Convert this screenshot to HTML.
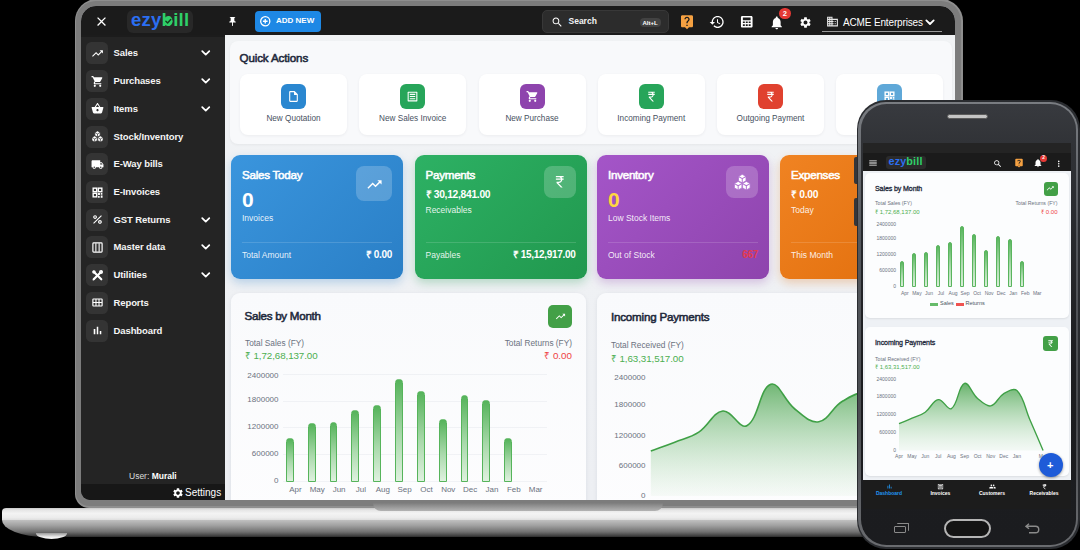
<!DOCTYPE html>
<html><head><meta charset="utf-8"><title>ezybill</title>
<style>
html,body{margin:0;padding:0;background:#000;}
body{width:1080px;height:550px;overflow:hidden;position:relative;font-family:"Liberation Sans",sans-serif;-webkit-font-smoothing:antialiased;}
*{box-sizing:border-box;}
.abs,.ic,.t{position:absolute;}
.t{white-space:nowrap;line-height:1;}
.ic{display:block;}
.h{font-weight:normal;-webkit-text-stroke:.55px currentColor;}
</style></head><body>

<div class="abs" style="left:74.800px;top:-1px;width:888px;height:509px;background:#8e8e8e;border-radius:22px 22px 14px 14px;"></div>
<div class="abs" style="left:76.300px;top:1px;width:885px;height:505px;background:#7c7c7c;border-radius:20px 20px 13px 13px;"></div>
<div id="scr" class="abs" style="left:81px;top:6px;width:874px;height:494px;background:#eff1f4;border-radius:15px 15px 9px 9px;overflow:hidden;">
<div class="abs" style="left:143.7px;top:29px;width:731px;height:465px;background:linear-gradient(180deg,#f1f3f5,#edeff3);"></div>
<div class="abs" style="left:0;top:0;width:874px;height:29px;background:#1b1b1b;"></div>
<svg class="ic" style="left:12.5px;top:7.5px;width:15px;height:15px;" viewBox="0 0 24 24"><path fill="#fff" d="M19 6.410L17.590 5 12 10.590 6.410 5 5 6.410 10.590 12 5 17.590 6.410 19 12 13.410 17.590 19 19 17.590 13.410 12z"/></svg>
<div class="abs" style="left:46px;top:3.5px;width:66px;height:23px;background:#282828;border-radius:6px;"></div>
<div class="t" style="left:50px;top:5px;font-size:18.500px;font-weight:bold;letter-spacing:.25px;"><span style="color:#2b6ff2">ezy</span><span style="color:#2fd068">bill</span></div>
<svg class="ic" style="left:81.7px;top:9.9px;width:10.500px;height:10.500px;" viewBox="0 0 10.500 10.500"><circle cx="5.250" cy="5.250" r="4.300" fill="#2fd068"/><path d="M2.900 5.300 L4.600 7 L7.700 3.600" fill="none" stroke="#14401f" stroke-width="1.500" stroke-linecap="round" stroke-linejoin="round"/></svg>
<svg class="ic" style="left:146px;top:9.5px;width:11px;height:11px;" viewBox="0 0 24 24"><path fill="#fff" d="M16 9V4h1c.55 0 1-.45 1-1s-.45-1-1-1H7c-.55 0-1 .45-1 1s.45 1 1 1h1v5c0 1.660-1.340 3-3 3v2h5.970v7l1 1 1-1v-7H19v-2c-1.660 0-3-1.340-3-3z"/></svg>
<div class="abs" style="left:174px;top:4.5px;width:66px;height:21.500px;background:#1e88e5;border-radius:4px;"></div>
<svg class="ic" style="left:177.5px;top:9px;width:12.5px;height:12.5px;" viewBox="0 0 24 24" fill="none" stroke="#fff"><circle cx="12" cy="12" r="8.800" stroke-width="2.500"/><path d="M12 7.500v9M7.500 12h9" stroke-width="2.600"/></svg>
<div class="t" style="left:195px;top:11px;font-size:8px;font-weight:bold;color:#fff;letter-spacing:0;">ADD NEW</div>
<div class="abs" style="left:461px;top:3.5px;width:127px;height:23.500px;background:#2c2c2c;border:1px solid #383838;border-radius:5px;"></div>
<svg class="ic" style="left:470px;top:9.5px;width:12.5px;height:12.5px;" viewBox="0 0 24 24"><path fill="#fff" d="M15.5 14h-.79l-.28-.27C15.41 12.59 16 11.11 16 9.5 16 5.91 13.09 3 9.5 3S3 5.91 3 9.5 5.91 16 9.5 16c1.61 0 3.09-.59 4.23-1.570l.27.28v.79l5 4.990L20.490 19l-4.990-5zm-6 0C7.010 14 5 11.990 5 9.500S7.010 5 9.500 5 14 7.010 14 9.500 11.990 14 9.500 14z"/></svg>
<div class="t" style="left:487.5px;top:11.3px;font-size:8.500px;font-weight:bold;color:#f2f2f2;">Search</div>
<div class="abs" style="left:558.5px;top:11.5px;width:21px;height:9.500px;background:#424242;border-radius:4px;"></div>
<div class="t" style="left:561.5px;top:13.5px;font-size:6px;font-weight:bold;color:#fff;">Alt+L</div>
<svg class="ic" style="left:597.5px;top:8px;width:16px;height:16px;" viewBox="0 0 24 24"><path fill="#f5a142" d="M19 2H5c-1.110 0-2 .9-2 2v14c0 1.100.89 2 2 2h4l3 3 3-3h4c1.100 0 2-.9 2-2V4c0-1.100-.9-2-2-2zm-6 16h-2v-2h2v2zm2.070-7.750l-.9.92C13.450 11.900 13 12.500 13 14h-2v-.5c0-1.100.45-2.100 1.170-2.830l1.240-1.260c.37-.36.59-.86.59-1.410 0-1.100-.9-2-2-2s-2 .9-2 2H8c0-2.210 1.790-4 4-4s4 1.790 4 4c0 .88-.36 1.680-.93 2.250z"/></svg>
<svg class="ic" style="left:628px;top:8px;width:16px;height:16px;" viewBox="0 0 24 24"><path fill="#fff" d="M13 3c-4.970 0-9 4.030-9 9H1l3.890 3.890.07.14L9 12H6c0-3.870 3.130-7 7-7s7 3.130 7 7-3.130 7-7 7c-1.930 0-3.680-.79-4.940-2.060l-1.420 1.420C8.270 19.990 10.510 21 13 21c4.970 0 9-4.030 9-9s-4.030-9-9-9zm-1 5v5l4.280 2.540.72-1.210-3.500-2.080V8H12z"/></svg>
<svg class="ic" style="left:657.5px;top:8px;width:15.5px;height:15.5px;" viewBox="0 0 24 24"><path fill="#fff" d="M19 3H5c-1.100 0-2 .9-2 2v14c0 1.100.9 2 2 2h14c1.100 0 2-.9 2-2V5c0-1.100-.9-2-2-2zM6 5.500h12v4H6v-4zM6 11.500h3v2.500H6zm4.500 0h3v2.500h-3zm4.500 0h3v2.500h-3zM6 16h3v2.500H6zm4.500 0h3v2.500h-3zm4.500 0h3v2.500h-3z"/></svg>
<svg class="ic" style="left:687.5px;top:8.5px;width:15.5px;height:15.5px;" viewBox="0 0 24 24"><path fill="#fff" d="M12 22c1.1 0 2-.9 2-2h-4c0 1.100.89 2 2 2zm6-6v-5c0-3.070-1.640-5.640-4.500-6.320V4c0-.83-.67-1.500-1.500-1.500s-1.500.67-1.500 1.500v.68C7.630 5.360 6 7.920 6 11v5l-2 2v1h16v-1l-2-2z"/></svg>
<div class="abs" style="left:698px;top:1.5px;width:11.500px;height:11.500px;border-radius:50%;background:#e53935;"></div>
<div class="t" style="left:701.7px;top:3.8px;font-size:7.500px;color:#fff;font-weight:bold;">2</div>
<svg class="ic" style="left:718px;top:9.5px;width:13px;height:13px;" viewBox="0 0 24 24"><path fill="#fff" d="M19.14 12.94c.04-.3.06-.61.06-.94 0-.32-.02-.64-.07-.94l2.030-1.580c.18-.14.23-.41.12-.61l-1.920-3.320c-.12-.22-.37-.29-.59-.22l-2.390.96c-.5-.38-1.030-.7-1.620-.94l-.36-2.540c-.04-.24-.24-.41-.48-.41h-3.840c-.24 0-.43.17-.47.41l-.36 2.540c-.59.24-1.130.57-1.620.94l-2.390-.96c-.22-.08-.47 0-.59.22L2.740 8.870c-.12.21-.08.47.12.61l2.030 1.580c-.05.3-.09.63-.09.94s.02.64.07.94l-2.030 1.580c-.18.14-.23.41-.12.61l1.920 3.320c.12.22.37.29.59.22l2.390-.96c.5.38 1.030.7 1.620.94l.36 2.540c.05.24.24.41.48.41h3.840c.24 0 .44-.17.47-.41l.36-2.540c.59-.24 1.130-.56 1.620-.94l2.390.96c.22.08.47 0 .59-.22l1.920-3.320c.12-.22.07-.47-.12-.61l-2.010-1.580zM12 15.600c-1.980 0-3.600-1.620-3.600-3.600s1.620-3.600 3.600-3.600 3.600 1.620 3.600 3.600-1.620 3.600-3.600 3.600z"/></svg>
<svg class="ic" style="left:744.5px;top:9px;width:13px;height:13px;" viewBox="0 0 24 24"><path fill="#e6e6e6" d="M12 7V3H2v18h20V7H12zM6 19H4v-2h2v2zm0-4H4v-2h2v2zm0-4H4V9h2v2zm0-4H4V5h2v2zm4 12H8v-2h2v2zm0-4H8v-2h2v2zm0-4H8V9h2v2zm0-4H8V5h2v2zm10 12h-8v-2h2v-2h-2v-2h2v-2h-2V9h8v10zm-2-8h-2v2h2v-2zm0 4h-2v2h2v-2z"/></svg>
<div class="t" style="left:762px;top:12px;font-size:10px;color:#fff;letter-spacing:-.15px;">ACME Enterprises</div>
<svg class="ic" style="left:841px;top:7.5px;width:16px;height:16px;" viewBox="0 0 24 24" fill="none" stroke="#fff"><path d="M6.500 9.500 L12 15 L17.500 9.500" stroke-width="2.700" stroke-linecap="round" stroke-linejoin="round"/></svg>
<div class="abs" style="left:740.5px;top:24.5px;width:120px;height:1px;background:#9a9a9a;"></div>
<div class="abs" style="left:0;top:29px;width:143.700px;height:465px;background:#242424;"></div>
<div class="abs" style="left:0;top:29px;width:143.700px;height:2px;background:#1c1c1c;"></div>
<div class="abs" style="left:5px;top:36.4px;width:22px;height:22px;background:#343434;border-radius:5.500px;"></div>
<svg class="ic" style="left:9.5px;top:40.9px;width:13px;height:13px;" viewBox="0 0 24 24"><path fill="#fff" d="M16 6l2.29 2.29-4.88 4.88-4-4L2 16.59 3.41 18l6-6 4 4 6.3-6.29L22 12V6z"/></svg>
<div class="t" style="left:32.5px;top:42.4px;font-size:9.500px;font-weight:bold;color:#f5f5f5;letter-spacing:-.1px;">Sales</div>
<svg class="ic" style="left:116.5px;top:39.4px;width:15.5px;height:15.5px;" viewBox="0 0 24 24" fill="none" stroke="#fff"><path d="M6.500 9.500 L12 15 L17.500 9.500" stroke-width="2.700" stroke-linecap="round" stroke-linejoin="round"/></svg>
<div class="abs" style="left:5px;top:64.12px;width:22px;height:22px;background:#343434;border-radius:5.500px;"></div>
<svg class="ic" style="left:9.5px;top:68.62px;width:13px;height:13px;" viewBox="0 0 24 24"><path fill="#fff" d="M7 18c-1.1 0-1.99.9-1.99 2S5.9 22 7 22s2-.9 2-2-.9-2-2-2zM1 2v2h2l3.6 7.59-1.35 2.45c-.16.28-.25.61-.25.96 0 1.1.9 2 2 2h12v-2H7.42c-.14 0-.25-.11-.25-.25l.03-.12.9-1.63h7.45c.75 0 1.41-.41 1.75-1.03l3.58-6.49c.08-.14.12-.31.12-.48 0-.55-.45-1-1-1H5.21l-.94-2H1zm16 16c-1.1 0-1.99.9-1.99 2s.89 2 1.99 2 2-.9 2-2-.9-2-2-2z"/></svg>
<div class="t" style="left:32.5px;top:70.12px;font-size:9.500px;font-weight:bold;color:#f5f5f5;letter-spacing:-.1px;">Purchases</div>
<svg class="ic" style="left:116.5px;top:67.12px;width:15.5px;height:15.5px;" viewBox="0 0 24 24" fill="none" stroke="#fff"><path d="M6.500 9.500 L12 15 L17.500 9.500" stroke-width="2.700" stroke-linecap="round" stroke-linejoin="round"/></svg>
<div class="abs" style="left:5px;top:91.84px;width:22px;height:22px;background:#343434;border-radius:5.500px;"></div>
<svg class="ic" style="left:9.5px;top:96.34px;width:13px;height:13px;" viewBox="0 0 24 24"><path fill="#fff" d="M17.21 9l-4.38-6.56c-.19-.28-.51-.42-.83-.42-.32 0-.64.14-.83.43L6.79 9H2c-.55 0-1 .45-1 1 0 .09.01.18.04.27l2.54 9.27c.23.84 1 1.46 1.92 1.46h13c.92 0 1.69-.62 1.93-1.46l2.54-9.27L23 10c0-.55-.45-1-1-1h-4.79zM9 9l3-4.4L15 9H9zm3 8c-1.1 0-2-.9-2-2s.9-2 2-2 2 .9 2 2-.9 2-2 2z"/></svg>
<div class="t" style="left:32.5px;top:97.84px;font-size:9.500px;font-weight:bold;color:#f5f5f5;letter-spacing:-.1px;">Items</div>
<svg class="ic" style="left:116.5px;top:94.84px;width:15.5px;height:15.5px;" viewBox="0 0 24 24" fill="none" stroke="#fff"><path d="M6.500 9.500 L12 15 L17.500 9.500" stroke-width="2.700" stroke-linecap="round" stroke-linejoin="round"/></svg>
<div class="abs" style="left:5px;top:119.56px;width:22px;height:22px;background:#343434;border-radius:5.500px;"></div>
<svg class="ic" style="left:9.5px;top:124.06px;width:13px;height:13px;" viewBox="0 0 24 24" fill="none" stroke="#fff"><polygon points="12.00,1.70 16.87,4.50 16.87,10.10 12.00,12.90 7.13,10.10 7.13,4.50" fill="#fff" stroke="#343434" stroke-width="1" stroke-linejoin="round"/><path d="M12 7.3 L12 12.899999999999999 M12 7.3 L16.87 4.50 M12 7.3 L7.13 4.50" stroke="#343434" stroke-width="1.300" fill="none"/><polygon points="6.70,10.90 11.57,13.70 11.57,19.30 6.70,22.10 1.83,19.30 1.83,13.70" fill="#fff" stroke="#343434" stroke-width="1" stroke-linejoin="round"/><path d="M6.7 16.5 L6.7 22.1 M6.7 16.5 L11.57 13.70 M6.7 16.5 L1.83 13.70" stroke="#343434" stroke-width="1.300" fill="none"/><polygon points="17.30,10.90 22.17,13.70 22.17,19.30 17.30,22.10 12.43,19.30 12.43,13.70" fill="#fff" stroke="#343434" stroke-width="1" stroke-linejoin="round"/><path d="M17.3 16.5 L17.3 22.1 M17.3 16.5 L22.17 13.70 M17.3 16.5 L12.43 13.70" stroke="#343434" stroke-width="1.300" fill="none"/></svg>
<div class="t" style="left:32.5px;top:125.56px;font-size:9.500px;font-weight:bold;color:#f5f5f5;letter-spacing:-.1px;">Stock/Inventory</div>
<div class="abs" style="left:5px;top:147.28px;width:22px;height:22px;background:#343434;border-radius:5.500px;"></div>
<svg class="ic" style="left:9.5px;top:151.78px;width:13px;height:13px;" viewBox="0 0 24 24"><path fill="#fff" d="M20 8h-3V4H3c-1.1 0-2 .9-2 2v11h2c0 1.66 1.34 3 3 3s3-1.34 3-3h6c0 1.66 1.34 3 3 3s3-1.34 3-3h2v-5l-3-4zM6 18.5c-.83 0-1.5-.67-1.5-1.5s.67-1.5 1.5-1.5 1.5.67 1.5 1.5-.67 1.5-1.5 1.5zm13.5-9l1.96 2.5H17V9.5h2.5zm-1.5 9c-.83 0-1.5-.67-1.5-1.5s.67-1.5 1.5-1.5 1.5.67 1.5 1.5-.67 1.5-1.5 1.5z"/></svg>
<div class="t" style="left:32.5px;top:153.28px;font-size:9.500px;font-weight:bold;color:#f5f5f5;letter-spacing:-.1px;">E-Way bills</div>
<div class="abs" style="left:5px;top:175.0px;width:22px;height:22px;background:#343434;border-radius:5.500px;"></div>
<svg class="ic" style="left:9.5px;top:179.5px;width:13px;height:13px;" viewBox="0 0 24 24" fill="none" stroke="#fff"><rect x="4" y="4" width="6.500" height="6.500" stroke-width="2.600"/><rect x="13.500" y="4" width="6.500" height="6.500" stroke-width="2.600"/><rect x="4" y="13.500" width="6.500" height="6.500" stroke-width="2.600"/><path d="M13 13h3.500v3.500H13zM18 13h3v3h-3zM13 18.500h3v3h-3zM18 17.500h3.300v4h-3.300z" fill="#fff" stroke="none"/></svg>
<div class="t" style="left:32.5px;top:181.0px;font-size:9.500px;font-weight:bold;color:#f5f5f5;letter-spacing:-.1px;">E-Invoices</div>
<div class="abs" style="left:5px;top:202.72px;width:22px;height:22px;background:#343434;border-radius:5.500px;"></div>
<svg class="ic" style="left:9.5px;top:207.22px;width:13px;height:13px;" viewBox="0 0 24 24"><path fill="#fff" d="M7.5 11C9.43 11 11 9.43 11 7.5S9.43 4 7.5 4 4 5.57 4 7.5 5.57 11 7.5 11zm0-5C8.33 6 9 6.67 9 7.5S8.33 9 7.5 9 6 8.33 6 7.5 6.67 6 7.5 6zM4 18.58L18.59 4 20 5.41 5.42 20zM16.5 13c-1.93 0-3.5 1.57-3.5 3.5s1.57 3.5 3.5 3.5 3.5-1.57 3.5-3.5-1.57-3.5-3.5-3.5zm0 5c-.83 0-1.5-.67-1.5-1.5s.67-1.5 1.5-1.5 1.5.67 1.5 1.5-.67 1.5-1.5 1.5z"/></svg>
<div class="t" style="left:32.5px;top:208.72px;font-size:9.500px;font-weight:bold;color:#f5f5f5;letter-spacing:-.1px;">GST Returns</div>
<svg class="ic" style="left:116.5px;top:205.72px;width:15.5px;height:15.5px;" viewBox="0 0 24 24" fill="none" stroke="#fff"><path d="M6.500 9.500 L12 15 L17.500 9.500" stroke-width="2.700" stroke-linecap="round" stroke-linejoin="round"/></svg>
<div class="abs" style="left:5px;top:230.44px;width:22px;height:22px;background:#343434;border-radius:5.500px;"></div>
<svg class="ic" style="left:9.5px;top:234.94px;width:13px;height:13px;" viewBox="0 0 24 24" fill="none" stroke="#fff"><rect x="3.500" y="3.500" width="17" height="17" rx="1.500" stroke-width="2.200"/><path d="M9 4v16M15 4v16" stroke-width="2"/></svg>
<div class="t" style="left:32.5px;top:236.44px;font-size:9.500px;font-weight:bold;color:#f5f5f5;letter-spacing:-.1px;">Master data</div>
<svg class="ic" style="left:116.5px;top:233.44px;width:15.5px;height:15.5px;" viewBox="0 0 24 24" fill="none" stroke="#fff"><path d="M6.500 9.500 L12 15 L17.500 9.500" stroke-width="2.700" stroke-linecap="round" stroke-linejoin="round"/></svg>
<div class="abs" style="left:5px;top:258.16px;width:22px;height:22px;background:#343434;border-radius:5.500px;"></div>
<svg class="ic" style="left:9.5px;top:262.66px;width:13px;height:13px;" viewBox="0 0 24 24" fill="none" stroke="#fff"><path d="M5 5 L19 19" stroke-width="4" stroke-linecap="round"/><path d="M19 5 L5 19" stroke-width="4" stroke-linecap="round"/><circle cx="5.500" cy="5.500" r="3.300" fill="#fff" stroke="none"/><circle cx="18.500" cy="5.500" r="2.600" stroke-width="2.200"/><path d="M3 21l4-1-3-3z" fill="#fff" stroke="none"/></svg>
<div class="t" style="left:32.5px;top:264.16px;font-size:9.500px;font-weight:bold;color:#f5f5f5;letter-spacing:-.1px;">Utilities</div>
<svg class="ic" style="left:116.5px;top:261.16px;width:15.5px;height:15.5px;" viewBox="0 0 24 24" fill="none" stroke="#fff"><path d="M6.500 9.500 L12 15 L17.500 9.500" stroke-width="2.700" stroke-linecap="round" stroke-linejoin="round"/></svg>
<div class="abs" style="left:5px;top:285.88px;width:22px;height:22px;background:#343434;border-radius:5.500px;"></div>
<svg class="ic" style="left:9.5px;top:290.38px;width:13px;height:13px;" viewBox="0 0 24 24" fill="none" stroke="#fff"><rect x="3.500" y="5.500" width="17" height="13" rx="1" stroke-width="2.200"/><path d="M3.500 12h17M9.200 5.500v13M14.800 5.500v13" stroke-width="2"/></svg>
<div class="t" style="left:32.5px;top:291.88px;font-size:9.500px;font-weight:bold;color:#f5f5f5;letter-spacing:-.1px;">Reports</div>
<div class="abs" style="left:5px;top:313.6px;width:22px;height:22px;background:#343434;border-radius:5.500px;"></div>
<svg class="ic" style="left:9.5px;top:318.1px;width:13px;height:13px;" viewBox="0 0 24 24"><path fill="#fff" d="M5 9.2h3V19H5zM10.6 5h2.8v14h-2.8zm5.6 8H19v6h-2.8z"/></svg>
<div class="t" style="left:32.5px;top:319.6px;font-size:9.500px;font-weight:bold;color:#f5f5f5;letter-spacing:-.1px;">Dashboard</div>
<div class="t" style="left:48px;top:466px;font-size:8.500px;color:#ddd;">User: <b style="color:#fff">Murali</b></div>
<div class="abs" style="left:0;top:478px;width:143.700px;height:16px;background:#171717;"></div>
<svg class="ic" style="left:91px;top:480.5px;width:12px;height:12px;" viewBox="0 0 24 24"><path fill="#fff" d="M19.14 12.94c.04-.3.06-.61.06-.94 0-.32-.02-.64-.07-.94l2.030-1.580c.18-.14.23-.41.12-.61l-1.920-3.320c-.12-.22-.37-.29-.59-.22l-2.390.96c-.5-.38-1.030-.7-1.620-.94l-.36-2.540c-.04-.24-.24-.41-.48-.41h-3.840c-.24 0-.43.17-.47.41l-.36 2.540c-.59.24-1.130.57-1.620.94l-2.390-.96c-.22-.08-.47 0-.59.22L2.740 8.870c-.12.21-.08.47.12.61l2.030 1.580c-.05.3-.09.63-.09.94s.02.64.07.94l-2.030 1.580c-.18.14-.23.41-.12.61l1.920 3.320c.12.22.37.29.59.22l2.390-.96c.5.38 1.030.7 1.620.94l.36 2.540c.05.24.24.41.48.41h3.840c.24 0 .44-.17.47-.41l.36-2.540c.59-.24 1.130-.56 1.620-.94l2.390.96c.22.08.47 0 .59-.22l1.920-3.320c.12-.22.07-.47-.12-.61l-2.010-1.580zM12 15.600c-1.980 0-3.600-1.620-3.600-3.600s1.620-3.600 3.600-3.600 3.600 1.620 3.600 3.600-1.620 3.600-3.600 3.600z"/></svg>
<div class="t" style="left:104px;top:481.5px;font-size:10px;color:#fff;">Settings</div>
<div class="abs" style="left:149px;top:35px;width:722px;height:102.5px;background:#f8f9fb;border-radius:8px;box-shadow:0 1px 3px rgba(0,0,0,.05);"></div>
<div class="t h" style="left:158.5px;top:46px;font-size:11.600px;color:#1e293b;letter-spacing:-.13px;">Quick Actions</div>
<div class="abs" style="left:159.0px;top:67.5px;width:107px;height:61px;background:#fff;border-radius:8px;box-shadow:0 1px 3px rgba(30,41,59,.06);"></div>
<div class="abs" style="left:200.0px;top:77.5px;width:25px;height:25px;background:#2a87d0;border-radius:6px;"></div>
<svg class="ic" style="left:206.0px;top:83.5px;width:13px;height:13px;" viewBox="0 0 24 24"><path fill="#fff" d="M14 2H6c-1.100 0-1.990.9-1.990 2L4 20c0 1.100.89 2 1.990 2H18c1.100 0 2-.9 2-2V8l-6-6zM6 20V4h7v5h5v11H6z"/></svg>
<div class="t" style="left:159.0px;top:108.5px;width:107px;text-align:center;font-size:8.200px;color:#475161;">New Quotation</div>
<div class="abs" style="left:278.25px;top:67.5px;width:107px;height:61px;background:#fff;border-radius:8px;box-shadow:0 1px 3px rgba(30,41,59,.06);"></div>
<div class="abs" style="left:319.25px;top:77.5px;width:25px;height:25px;background:#27a55a;border-radius:6px;"></div>
<svg class="ic" style="left:325.25px;top:83.5px;width:13px;height:13px;" viewBox="0 0 24 24"><path fill="#fff" d="M19 5v14H5V5h14m1.100-2H3.900c-.5 0-.9.4-.9.9v16.200c0 .4.4.9.9.9h16.200c.4 0 .9-.5.9-.9V3.900c0-.5-.5-.9-.9-.9zM7 7h10v2H7zm0 4h10v2H7zm0 4h10v2H7z"/></svg>
<div class="t" style="left:278.25px;top:108.5px;width:107px;text-align:center;font-size:8.200px;color:#475161;">New Sales Invoice</div>
<div class="abs" style="left:397.5px;top:67.5px;width:107px;height:61px;background:#fff;border-radius:8px;box-shadow:0 1px 3px rgba(30,41,59,.06);"></div>
<div class="abs" style="left:438.5px;top:77.5px;width:25px;height:25px;background:#8e44ad;border-radius:6px;"></div>
<svg class="ic" style="left:444.5px;top:83.5px;width:13px;height:13px;" viewBox="0 0 24 24"><path fill="#fff" d="M7 18c-1.1 0-1.99.9-1.99 2S5.9 22 7 22s2-.9 2-2-.9-2-2-2zM1 2v2h2l3.6 7.59-1.35 2.45c-.16.28-.25.61-.25.96 0 1.1.9 2 2 2h12v-2H7.42c-.14 0-.25-.11-.25-.25l.03-.12.9-1.63h7.45c.75 0 1.41-.41 1.75-1.03l3.58-6.49c.08-.14.12-.31.12-.48 0-.55-.45-1-1-1H5.21l-.94-2H1zm16 16c-1.1 0-1.99.9-1.99 2s.89 2 1.99 2 2-.9 2-2-.9-2-2-2z"/></svg>
<div class="t" style="left:397.5px;top:108.5px;width:107px;text-align:center;font-size:8.200px;color:#475161;">New Purchase</div>
<div class="abs" style="left:516.75px;top:67.5px;width:107px;height:61px;background:#fff;border-radius:8px;box-shadow:0 1px 3px rgba(30,41,59,.06);"></div>
<div class="abs" style="left:557.75px;top:77.5px;width:25px;height:25px;background:#27a55a;border-radius:6px;"></div>
<svg class="ic" style="left:563.75px;top:83.5px;width:13px;height:13px;" viewBox="0 0 24 24"><path fill="#fff" d="M13.660 7c-.56-1.180-1.760-2-3.160-2H6V3h12v2h-3.260c.48.58.84 1.260 1.050 2H18v2h-2.020c-.25 2.800-2.610 5-5.480 5h-.73l6.730 7h-2.770L7 14v-2h3.500c1.760 0 3.220-1.300 3.460-3H6V7h7.660z"/></svg>
<div class="t" style="left:516.75px;top:108.5px;width:107px;text-align:center;font-size:8.200px;color:#475161;">Incoming Payment</div>
<div class="abs" style="left:636.0px;top:67.5px;width:107px;height:61px;background:#fff;border-radius:8px;box-shadow:0 1px 3px rgba(30,41,59,.06);"></div>
<div class="abs" style="left:677.0px;top:77.5px;width:25px;height:25px;background:#e0412f;border-radius:6px;"></div>
<svg class="ic" style="left:683.0px;top:83.5px;width:13px;height:13px;" viewBox="0 0 24 24"><path fill="#fff" d="M13.660 7c-.56-1.180-1.760-2-3.160-2H6V3h12v2h-3.260c.48.58.84 1.260 1.050 2H18v2h-2.020c-.25 2.800-2.610 5-5.480 5h-.73l6.730 7h-2.770L7 14v-2h3.500c1.760 0 3.220-1.300 3.460-3H6V7h7.660z"/></svg>
<div class="t" style="left:636.0px;top:108.5px;width:107px;text-align:center;font-size:8.200px;color:#475161;">Outgoing Payment</div>
<div class="abs" style="left:755.25px;top:67.5px;width:107px;height:61px;background:#fff;border-radius:8px;box-shadow:0 1px 3px rgba(30,41,59,.06);"></div>
<div class="abs" style="left:796.25px;top:77.5px;width:25px;height:25px;background:#5fa8d8;border-radius:6px;"></div>
<svg class="ic" style="left:802.25px;top:83.5px;width:13px;height:13px;" viewBox="0 0 24 24" fill="none" stroke="#fff"><rect x="4" y="4" width="6.500" height="6.500" stroke-width="2.600"/><rect x="13.500" y="4" width="6.500" height="6.500" stroke-width="2.600"/><rect x="4" y="13.500" width="6.500" height="6.500" stroke-width="2.600"/><path d="M13 13h3.500v3.500H13zM18 13h3v3h-3zM13 18.500h3v3h-3zM18 17.500h3.300v4h-3.300z" fill="#fff" stroke="none"/></svg>
<div class="abs" style="left:150px;top:148.5px;width:172px;height:124px;background:linear-gradient(135deg,#3a95dd,#2a7fc6);border-radius:9px;box-shadow:0 4px 10px rgba(42,127,198,.28);"></div>
<div class="t h" style="left:161px;top:162.5px;font-size:11.600px;color:#fff;letter-spacing:-.25px;">Sales Today</div>
<div class="t" style="left:161px;top:182.5px;font-size:21px;font-weight:bold;color:#fff;">0</div>
<div class="abs" style="left:161px;top:235.5px;width:150px;height:1px;background:rgba(255,255,255,.14);"></div>
<div class="t" style="left:161px;top:244.5px;font-size:8.500px;color:rgba(255,255,255,.9);">Total Amount</div>
<div class="t" style="left:161px;top:243.5px;width:150px;text-align:right;font-size:10px;font-weight:bold;color:#fff;letter-spacing:-.3px;">₹ 0.00</div>
<div class="abs" style="left:275px;top:160px;width:36px;height:34.5px;background:rgba(255,255,255,.2);border-radius:8px;"></div>
<svg class="ic" style="left:284.5px;top:169.55px;width:17px;height:17px;" viewBox="0 0 24 24"><path fill="#fff" d="M16 6l2.29 2.29-4.88 4.88-4-4L2 16.59 3.41 18l6-6 4 4 6.3-6.29L22 12V6z"/></svg>
<div class="t" style="left:161px;top:208px;font-size:8.500px;color:rgba(255,255,255,.9);">Invoices</div>
<div class="abs" style="left:333.5px;top:148.5px;width:172px;height:124px;background:linear-gradient(135deg,#2db164,#21984e);border-radius:9px;box-shadow:0 4px 10px rgba(33,152,78,.28);"></div>
<div class="t h" style="left:344.5px;top:162.5px;font-size:11.600px;color:#fff;letter-spacing:-.25px;">Payments</div>
<div class="t" style="left:344.5px;top:184px;font-size:10.300px;font-weight:bold;color:#fff;letter-spacing:-.3px;">₹ 30,12,841.00</div>
<div class="abs" style="left:344.5px;top:235.5px;width:150px;height:1px;background:rgba(255,255,255,.14);"></div>
<div class="t" style="left:344.5px;top:244.5px;font-size:8.500px;color:rgba(255,255,255,.9);">Payables</div>
<div class="t" style="left:344.5px;top:243.5px;width:150px;text-align:right;font-size:10px;font-weight:bold;color:#fff;letter-spacing:-.3px;">₹ 15,12,917.00</div>
<div class="abs" style="left:462.5px;top:160px;width:32px;height:32px;background:rgba(255,255,255,.2);border-radius:8px;"></div>
<svg class="ic" style="left:470.75px;top:168.25px;width:15.5px;height:15.5px;" viewBox="0 0 24 24"><path fill="#fff" d="M13.660 7c-.56-1.180-1.760-2-3.160-2H6V3h12v2h-3.260c.48.58.84 1.260 1.050 2H18v2h-2.020c-.25 2.800-2.610 5-5.480 5h-.73l6.730 7h-2.770L7 14v-2h3.500c1.760 0 3.220-1.300 3.460-3H6V7h7.660z"/></svg>
<div class="t" style="left:344.5px;top:199.5px;font-size:8.500px;color:rgba(255,255,255,.9);">Receivables</div>
<div class="abs" style="left:516px;top:148.5px;width:172px;height:124px;background:linear-gradient(135deg,#a455c8,#8e44ad);border-radius:9px;box-shadow:0 4px 10px rgba(142,68,173,.28);"></div>
<div class="t h" style="left:527px;top:162.5px;font-size:11.600px;color:#fff;letter-spacing:-.25px;">Inventory</div>
<div class="t" style="left:527px;top:182.5px;font-size:21px;font-weight:bold;color:#ffd740;">0</div>
<div class="abs" style="left:527px;top:235.5px;width:150px;height:1px;background:rgba(255,255,255,.14);"></div>
<div class="t" style="left:527px;top:244.5px;font-size:8.500px;color:rgba(255,255,255,.9);">Out of Stock</div>
<div class="t" style="left:527px;top:243.5px;width:150px;text-align:right;font-size:10px;font-weight:bold;color:#e23a4e;letter-spacing:-.3px;">667</div>
<div class="abs" style="left:645px;top:160px;width:32px;height:32px;background:rgba(255,255,255,.2);border-radius:8px;"></div>
<svg class="ic" style="left:651.75px;top:166.75px;width:18.5px;height:18.5px;" viewBox="0 0 24 24" fill="none" stroke="#fff"><polygon points="12.00,1.70 16.87,4.50 16.87,10.10 12.00,12.90 7.13,10.10 7.13,4.50" fill="#fff" stroke="#b070d0" stroke-width="1" stroke-linejoin="round"/><path d="M12 7.3 L12 12.899999999999999 M12 7.3 L16.87 4.50 M12 7.3 L7.13 4.50" stroke="#b070d0" stroke-width="1.300" fill="none"/><polygon points="6.70,10.90 11.57,13.70 11.57,19.30 6.70,22.10 1.83,19.30 1.83,13.70" fill="#fff" stroke="#b070d0" stroke-width="1" stroke-linejoin="round"/><path d="M6.7 16.5 L6.7 22.1 M6.7 16.5 L11.57 13.70 M6.7 16.5 L1.83 13.70" stroke="#b070d0" stroke-width="1.300" fill="none"/><polygon points="17.30,10.90 22.17,13.70 22.17,19.30 17.30,22.10 12.43,19.30 12.43,13.70" fill="#fff" stroke="#b070d0" stroke-width="1" stroke-linejoin="round"/><path d="M17.3 16.5 L17.3 22.1 M17.3 16.5 L22.17 13.70 M17.3 16.5 L12.43 13.70" stroke="#b070d0" stroke-width="1.300" fill="none"/></svg>
<div class="t" style="left:527px;top:208px;font-size:8.500px;color:rgba(255,255,255,.9);">Low Stock Items</div>
<div class="abs" style="left:699px;top:148.5px;width:172px;height:124px;background:linear-gradient(135deg,#f08322,#e06c0a);border-radius:9px;box-shadow:0 4px 10px rgba(224,108,10,.28);"></div>
<div class="t h" style="left:710px;top:162.5px;font-size:11.600px;color:#fff;letter-spacing:-.25px;">Expenses</div>
<div class="t" style="left:710px;top:184px;font-size:10.300px;font-weight:bold;color:#fff;letter-spacing:-.3px;">₹ 0.00</div>
<div class="abs" style="left:710px;top:235.5px;width:150px;height:1px;background:rgba(255,255,255,.14);"></div>
<div class="t" style="left:710px;top:244.5px;font-size:8.500px;color:rgba(255,255,255,.9);">This Month</div>
<div class="t" style="left:710px;top:243.5px;width:150px;text-align:right;font-size:10px;font-weight:bold;color:#fff;letter-spacing:-.3px;"></div>
<div class="abs" style="left:828px;top:160px;width:32px;height:32px;background:rgba(255,255,255,.2);border-radius:8px;"></div>
<svg class="ic" style="left:836.25px;top:168.25px;width:15.5px;height:15.5px;" viewBox="0 0 24 24"><path fill="#fff" d="M13.660 7c-.56-1.180-1.760-2-3.160-2H6V3h12v2h-3.260c.48.58.84 1.260 1.050 2H18v2h-2.020c-.25 2.800-2.610 5-5.480 5h-.73l6.730 7h-2.770L7 14v-2h3.500c1.760 0 3.220-1.300 3.460-3H6V7h7.660z"/></svg>
<div class="t" style="left:710px;top:199.5px;font-size:8.500px;color:rgba(255,255,255,.9);">Today</div>
<div class="abs" style="left:149.5px;top:287px;width:355.500px;height:230px;background:linear-gradient(180deg,#f9fafc,#fdfdfe);border-radius:9px;box-shadow:0 1px 4px rgba(30,41,59,.08);"></div>
<div class="abs" style="left:515.5px;top:287px;width:355.500px;height:230px;background:linear-gradient(180deg,#f9fafc,#fdfdfe);border-radius:9px;box-shadow:0 1px 4px rgba(30,41,59,.08);"></div>
<div class="t h" style="left:163.5px;top:304px;font-size:11.600px;color:#1e293b;letter-spacing:-.26px;">Sales by Month</div>
<div class="abs" style="left:467px;top:299px;width:24px;height:23px;background:#43a047;border-radius:5px;"></div>
<svg class="ic" style="left:473.5px;top:305px;width:11px;height:11px;" viewBox="0 0 24 24"><path fill="#fff" d="M16 6l2.29 2.29-4.88 4.88-4-4L2 16.59 3.41 18l6-6 4 4 6.3-6.29L22 12V6z"/></svg>
<div class="t" style="left:164px;top:332.8px;font-size:8.300px;color:#6b7280;">Total Sales (FY)</div>
<div class="t" style="left:164px;top:345px;font-size:9.800px;color:#4caf50;letter-spacing:-.1px;">₹ 1,72,68,137.00</div>
<div class="t" style="left:391px;top:332.8px;width:100px;text-align:right;font-size:8.300px;color:#6b7280;">Total Returns (FY)</div>
<div class="t" style="left:391px;top:345px;width:100px;text-align:right;font-size:9.800px;color:#ef4444;">₹ 0.00</div>
<div class="t" style="left:147px;top:366px;width:50.500px;text-align:right;font-size:8px;color:#6b7280;">2400000</div>
<div class="t" style="left:147px;top:390px;width:50.500px;text-align:right;font-size:8px;color:#6b7280;">1800000</div>
<div class="t" style="left:147px;top:417px;width:50.500px;text-align:right;font-size:8px;color:#6b7280;">1200000</div>
<div class="t" style="left:147px;top:444px;width:50.500px;text-align:right;font-size:8px;color:#6b7280;">600000</div>
<div class="t" style="left:147px;top:471px;width:50.500px;text-align:right;font-size:8px;color:#6b7280;">0</div>
<div class="abs" style="left:202px;top:475.0px;width:264px;height:1px;background:rgba(100,116,139,.07);"></div>
<div class="abs" style="left:202px;top:448.2px;width:264px;height:1px;background:rgba(100,116,139,.07);"></div>
<div class="abs" style="left:202px;top:421.4px;width:264px;height:1px;background:rgba(100,116,139,.07);"></div>
<div class="abs" style="left:202px;top:394.6px;width:264px;height:1px;background:rgba(100,116,139,.07);"></div>
<div class="abs" style="left:202px;top:367.8px;width:264px;height:1px;background:rgba(100,116,139,.07);"></div>
<div class="abs" style="left:204.9px;top:432px;width:7.800px;height:43.5px;background:linear-gradient(180deg,#55b35a,#a9d9ab 55%,#dff1df);border:1px solid #56b45b;border-radius:3.500px 3.500px 0 0;"></div>
<div class="abs" style="left:226.74px;top:417px;width:7.800px;height:58.5px;background:linear-gradient(180deg,#55b35a,#a9d9ab 55%,#dff1df);border:1px solid #56b45b;border-radius:3.500px 3.500px 0 0;"></div>
<div class="abs" style="left:248.58px;top:415.5px;width:7.800px;height:60.0px;background:linear-gradient(180deg,#55b35a,#a9d9ab 55%,#dff1df);border:1px solid #56b45b;border-radius:3.500px 3.500px 0 0;"></div>
<div class="abs" style="left:270.42px;top:404px;width:7.800px;height:71.5px;background:linear-gradient(180deg,#55b35a,#a9d9ab 55%,#dff1df);border:1px solid #56b45b;border-radius:3.500px 3.500px 0 0;"></div>
<div class="abs" style="left:292.26px;top:399px;width:7.800px;height:76.5px;background:linear-gradient(180deg,#55b35a,#a9d9ab 55%,#dff1df);border:1px solid #56b45b;border-radius:3.500px 3.500px 0 0;"></div>
<div class="abs" style="left:314.1px;top:372.5px;width:7.800px;height:103.0px;background:linear-gradient(180deg,#55b35a,#a9d9ab 55%,#dff1df);border:1px solid #56b45b;border-radius:3.500px 3.500px 0 0;"></div>
<div class="abs" style="left:335.94px;top:385px;width:7.800px;height:90.5px;background:linear-gradient(180deg,#55b35a,#a9d9ab 55%,#dff1df);border:1px solid #56b45b;border-radius:3.500px 3.500px 0 0;"></div>
<div class="abs" style="left:357.78px;top:413px;width:7.800px;height:62.5px;background:linear-gradient(180deg,#55b35a,#a9d9ab 55%,#dff1df);border:1px solid #56b45b;border-radius:3.500px 3.500px 0 0;"></div>
<div class="abs" style="left:379.62px;top:389px;width:7.800px;height:86.5px;background:linear-gradient(180deg,#55b35a,#a9d9ab 55%,#dff1df);border:1px solid #56b45b;border-radius:3.500px 3.500px 0 0;"></div>
<div class="abs" style="left:401.46px;top:393.5px;width:7.800px;height:82.0px;background:linear-gradient(180deg,#55b35a,#a9d9ab 55%,#dff1df);border:1px solid #56b45b;border-radius:3.500px 3.500px 0 0;"></div>
<div class="abs" style="left:423.3px;top:431.5px;width:7.800px;height:44.0px;background:linear-gradient(180deg,#55b35a,#a9d9ab 55%,#dff1df);border:1px solid #56b45b;border-radius:3.500px 3.500px 0 0;"></div>
<div class="t" style="left:199.4px;top:480px;width:30px;text-align:center;font-size:8px;color:#6b7280;">Apr</div>
<div class="t" style="left:221.24px;top:480px;width:30px;text-align:center;font-size:8px;color:#6b7280;">May</div>
<div class="t" style="left:243.08px;top:480px;width:30px;text-align:center;font-size:8px;color:#6b7280;">Jun</div>
<div class="t" style="left:264.92px;top:480px;width:30px;text-align:center;font-size:8px;color:#6b7280;">Jul</div>
<div class="t" style="left:286.76px;top:480px;width:30px;text-align:center;font-size:8px;color:#6b7280;">Aug</div>
<div class="t" style="left:308.6px;top:480px;width:30px;text-align:center;font-size:8px;color:#6b7280;">Sep</div>
<div class="t" style="left:330.44px;top:480px;width:30px;text-align:center;font-size:8px;color:#6b7280;">Oct</div>
<div class="t" style="left:352.28px;top:480px;width:30px;text-align:center;font-size:8px;color:#6b7280;">Nov</div>
<div class="t" style="left:374.12px;top:480px;width:30px;text-align:center;font-size:8px;color:#6b7280;">Dec</div>
<div class="t" style="left:395.96px;top:480px;width:30px;text-align:center;font-size:8px;color:#6b7280;">Jan</div>
<div class="t" style="left:417.8px;top:480px;width:30px;text-align:center;font-size:8px;color:#6b7280;">Feb</div>
<div class="t" style="left:439.64px;top:480px;width:30px;text-align:center;font-size:8px;color:#6b7280;">Mar</div>
<div class="t h" style="left:530px;top:305px;font-size:11.600px;color:#1e293b;letter-spacing:-.2px;">Incoming Payments</div>
<div class="t" style="left:530px;top:335px;font-size:8.300px;color:#6b7280;">Total Received (FY)</div>
<div class="t" style="left:530px;top:347.5px;font-size:9.800px;color:#4caf50;letter-spacing:-.1px;">₹ 1,63,31,517.00</div>
<div class="t" style="left:514px;top:367.8px;width:50.500px;text-align:right;font-size:8px;color:#6b7280;">2400000</div>
<div class="t" style="left:514px;top:395px;width:50.500px;text-align:right;font-size:8px;color:#6b7280;">1800000</div>
<div class="t" style="left:514px;top:426px;width:50.500px;text-align:right;font-size:8px;color:#6b7280;">1200000</div>
<div class="t" style="left:514px;top:456px;width:50.500px;text-align:right;font-size:8px;color:#6b7280;">600000</div>
<div class="t" style="left:514px;top:486px;width:50.500px;text-align:right;font-size:8px;color:#6b7280;">0</div>
<svg class="abs" style="left:0;top:0;width:874px;height:494px;" viewBox="0 0 874 494"><defs><linearGradient id="ga" x1="0" y1="0" x2="0" y2="1"><stop offset="0" stop-color="#43a047" stop-opacity=".75"/><stop offset="1" stop-color="#a5d6a7" stop-opacity=".08"/></linearGradient></defs>
<path d="M569.8 445.0 C579.4 441.5 584.3 439.9 593.8 436.2 C603.5 432.4 609.2 431.8 617.8 426.2 C628.4 419.3 631.6 406.4 641.8 405.0 C650.8 403.8 658.7 423.8 665.8 419.8 C677.9 413.0 678.6 382.1 689.8 378.2 C697.8 375.4 703.1 394.6 713.8 403.0 C722.3 409.6 728.9 417.3 737.8 415.8 C748.1 414.1 751.0 401.0 761.8 395.0 C770.2 390.3 779.5 383.9 785.8 389.0 C798.7 399.5 801.1 415.6 809.8 434.0 C820.3 456.0 824.2 467.6 833.8 490.0 L833.8 490 L569.8 490 Z" fill="url(#ga)"/><path d="M569.8 445.0 C579.4 441.5 584.3 439.9 593.8 436.2 C603.5 432.4 609.2 431.8 617.8 426.2 C628.4 419.3 631.6 406.4 641.8 405.0 C650.8 403.8 658.7 423.8 665.8 419.8 C677.9 413.0 678.6 382.1 689.8 378.2 C697.8 375.4 703.1 394.6 713.8 403.0 C722.3 409.6 728.9 417.3 737.8 415.8 C748.1 414.1 751.0 401.0 761.8 395.0 C770.2 390.3 779.5 383.9 785.8 389.0 C798.7 399.5 801.1 415.6 809.8 434.0 C820.3 456.0 824.2 467.6 833.8 490.0" fill="none" stroke="#3fa046" stroke-width="1.600"/></svg>
</div>
<div class="abs" style="left:2px;top:519px;width:1034px;height:17.500px;border-radius:0 0 44px 44px / 0 0 17px 17px;background:linear-gradient(180deg,#c6c6c6 0%,#a2a2a2 35%,#707070 72%,#3e3e3e 94%,#2a2a2a 100%);"></div>
<div class="abs" style="left:2px;top:507.500px;width:1034px;height:12.500px;border-radius:4px 4px 0 0;background:linear-gradient(180deg,#c9c9c9 0%,#e6e6e6 18%,#f3f3f3 45%,#ececec 80%,#dedede 100%);"></div>
<div class="abs" style="left:373px;top:503px;width:290px;height:8px;border-radius:0 0 8px 8px;background:linear-gradient(180deg,#7d7d7d,#b3b3b3);"></div>
<div class="abs" style="left:36px;top:533px;width:31px;height:6px;border-radius:0 0 16px 16px / 0 0 6px 6px;background:linear-gradient(180deg,#9a9a9a,#f2f2f2 70%);"></div>
<div class="abs" style="left:853.500px;top:156.500px;width:4px;height:27.500px;background:#34363a;border-radius:2px 0 0 2px;"></div>
<div class="abs" style="left:853.500px;top:198px;width:4px;height:27.500px;background:#34363a;border-radius:2px 0 0 2px;"></div>
<div class="abs" style="left:856.500px;top:100px;width:223px;height:448.500px;background:#2a2c30;border-radius:29px;"></div>
<div class="abs" style="left:858px;top:101.500px;width:220px;height:445.500px;background:linear-gradient(180deg,#7a7d82,#55585d 30%,#4a4c50 70%,#6a6c70);border-radius:28px;"></div><div class="abs" style="left:860.500px;top:104px;width:215px;height:440.500px;background:linear-gradient(180deg,#383a3f 0%,#303236 10%,#1c1d20 60%,#1b1c1f 100%);border-radius:25.500px;"></div>
<div class="abs" style="left:946.500px;top:113.500px;width:41px;height:5px;background:#c4c4c4;border-radius:3px;border:1px solid #5a5a5a;"></div>
<div id="ph" class="abs" style="left:863px;top:143px;width:207.500px;height:366px;background:#eef1f5;overflow:hidden;">
<div class="abs" style="left:0;top:0;width:208px;height:10px;background:#242424;"></div>
<div class="abs" style="left:0;top:9.500px;width:208px;height:18.5px;background:#1b1b1b;"></div>
<svg class="ic" style="left:5px;top:15px;width:10px;height:10px;" viewBox="0 0 24 24"><path fill="#fff" d="M3 18h18v-2H3v2zm0-5h18v-2H3v2zm0-7v2h18V6H3z"/></svg>
<div class="abs" style="left:23px;top:12.5px;width:40px;height:13px;background:#2b2b2b;border-radius:3px;"></div>
<div class="t" style="left:25.5px;top:13.3px;font-size:10.800px;font-weight:bold;letter-spacing:.15px;"><span style="color:#2b6ff2">ezy</span><span style="color:#2fd068">bill</span></div>
<svg class="ic" style="left:130px;top:15.5px;width:9.5px;height:9.5px;" viewBox="0 0 24 24"><path fill="#fff" d="M15.5 14h-.79l-.28-.27C15.41 12.59 16 11.11 16 9.5 16 5.91 13.09 3 9.5 3S3 5.91 3 9.5 5.91 16 9.5 16c1.61 0 3.09-.59 4.23-1.570l.27.28v.79l5 4.990L20.490 19l-4.990-5zm-6 0C7.010 14 5 11.990 5 9.500S7.010 5 9.500 5 14 7.010 14 9.500 11.990 14 9.500 14z"/></svg>
<svg class="ic" style="left:150.5px;top:15px;width:10px;height:10px;" viewBox="0 0 24 24"><path fill="#f5a142" d="M19 2H5c-1.110 0-2 .9-2 2v14c0 1.100.89 2 2 2h4l3 3 3-3h4c1.100 0 2-.9 2-2V4c0-1.100-.9-2-2-2zm-6 16h-2v-2h2v2zm2.070-7.750l-.9.92C13.450 11.900 13 12.500 13 14h-2v-.5c0-1.100.45-2.100 1.170-2.830l1.240-1.260c.37-.36.59-.86.59-1.410 0-1.100-.9-2-2-2s-2 .9-2 2H8c0-2.210 1.790-4 4-4s4 1.790 4 4c0 .88-.36 1.680-.93 2.250z"/></svg>
<svg class="ic" style="left:170px;top:15px;width:10px;height:10px;" viewBox="0 0 24 24"><path fill="#fff" d="M12 22c1.1 0 2-.9 2-2h-4c0 1.100.89 2 2 2zm6-6v-5c0-3.070-1.640-5.640-4.500-6.320V4c0-.83-.67-1.500-1.500-1.500s-1.500.67-1.500 1.500v.68C7.630 5.360 6 7.920 6 11v5l-2 2v1h16v-1l-2-2z"/></svg>
<div class="abs" style="left:177px;top:11.5px;width:7px;height:7px;border-radius:50%;background:#e53935;"></div>
<div class="t" style="left:179.2px;top:12.7px;font-size:4.800px;color:#fff;font-weight:bold;">2</div>
<svg class="ic" style="left:190.5px;top:15.5px;width:9.5px;height:9.5px;" viewBox="0 0 24 24"><path fill="#fff" d="M12 8c1.100 0 2-.9 2-2s-.9-2-2-2-2 .9-2 2 .9 2 2 2zm0 2c-1.100 0-2 .9-2 2s.9 2 2 2 2-.9 2-2-.9-2-2-2zm0 6c-1.100 0-2 .9-2 2s.9 2 2 2 2-.9 2-2-.9-2-2-2z"/></svg>
<div class="abs" style="left:2px;top:30px;width:203.500px;height:145px;background:#fcfdfe;border-radius:5px;box-shadow:0 1px 2px rgba(0,0,0,.08);"></div>
<div class="t" style="left:12px;top:41.5px;font-size:7.050px;-webkit-text-stroke:.3px #1e293b;color:#1e293b;letter-spacing:-.1px;">Sales by Month</div>
<div class="abs" style="left:180.5px;top:38.5px;width:14px;height:14px;background:#43a047;border-radius:3px;"></div>
<svg class="ic" style="left:183.3px;top:41.3px;width:8.5px;height:8.5px;" viewBox="0 0 24 24"><path fill="#fff" d="M16 6l2.29 2.29-4.88 4.88-4-4L2 16.59 3.41 18l6-6 4 4 6.3-6.29L22 12V6z"/></svg>
<div class="t" style="left:12px;top:58px;font-size:5.200px;color:#6b7280;">Total Sales (FY)</div>
<div class="t" style="left:12px;top:66.3px;font-size:6px;color:#4caf50;">₹ 1,72,68,137.00</div>
<div class="t" style="left:124.5px;top:58px;width:70px;text-align:right;font-size:5.200px;color:#6b7280;">Total Returns (FY)</div>
<div class="t" style="left:124.5px;top:66.3px;width:70px;text-align:right;font-size:6px;color:#ef4444;">₹ 0.00</div>
<div class="t" style="left:2px;top:78.5px;width:31px;text-align:right;font-size:5px;color:#6b7280;">2400000</div>
<div class="t" style="left:2px;top:93.0px;width:31px;text-align:right;font-size:5px;color:#6b7280;">1800000</div>
<div class="t" style="left:2px;top:108.9px;width:31px;text-align:right;font-size:5px;color:#6b7280;">1200000</div>
<div class="t" style="left:2px;top:125.2px;width:31px;text-align:right;font-size:5px;color:#6b7280;">600000</div>
<div class="t" style="left:2px;top:141.1px;width:31px;text-align:right;font-size:5px;color:#6b7280;">0</div>
<div class="abs" style="left:36.9px;top:118.4px;width:4px;height:25.6px;background:linear-gradient(180deg,#58b55d,#a9d9ab 55%,#d8eed9);border:.600px solid #5ab55e;border-radius:2px 2px 0 0;"></div>
<div class="abs" style="left:48.93px;top:109.87px;width:4px;height:34.1px;background:linear-gradient(180deg,#58b55d,#a9d9ab 55%,#d8eed9);border:.600px solid #5ab55e;border-radius:2px 2px 0 0;"></div>
<div class="abs" style="left:60.96px;top:108.8px;width:4px;height:35.2px;background:linear-gradient(180deg,#58b55d,#a9d9ab 55%,#d8eed9);border:.600px solid #5ab55e;border-radius:2px 2px 0 0;"></div>
<div class="abs" style="left:72.99px;top:102.13px;width:4px;height:41.9px;background:linear-gradient(180deg,#58b55d,#a9d9ab 55%,#d8eed9);border:.600px solid #5ab55e;border-radius:2px 2px 0 0;"></div>
<div class="abs" style="left:85.02px;top:99.2px;width:4px;height:44.8px;background:linear-gradient(180deg,#58b55d,#a9d9ab 55%,#d8eed9);border:.600px solid #5ab55e;border-radius:2px 2px 0 0;"></div>
<div class="abs" style="left:97.05px;top:83.47px;width:4px;height:60.5px;background:linear-gradient(180deg,#58b55d,#a9d9ab 55%,#d8eed9);border:.600px solid #5ab55e;border-radius:2px 2px 0 0;"></div>
<div class="abs" style="left:109.08px;top:90.67px;width:4px;height:53.3px;background:linear-gradient(180deg,#58b55d,#a9d9ab 55%,#d8eed9);border:.600px solid #5ab55e;border-radius:2px 2px 0 0;"></div>
<div class="abs" style="left:121.11px;top:107.47px;width:4px;height:36.5px;background:linear-gradient(180deg,#58b55d,#a9d9ab 55%,#d8eed9);border:.600px solid #5ab55e;border-radius:2px 2px 0 0;"></div>
<div class="abs" style="left:133.14px;top:93.07px;width:4px;height:50.9px;background:linear-gradient(180deg,#58b55d,#a9d9ab 55%,#d8eed9);border:.600px solid #5ab55e;border-radius:2px 2px 0 0;"></div>
<div class="abs" style="left:145.17px;top:95.73px;width:4px;height:48.3px;background:linear-gradient(180deg,#58b55d,#a9d9ab 55%,#d8eed9);border:.600px solid #5ab55e;border-radius:2px 2px 0 0;"></div>
<div class="abs" style="left:157.2px;top:118.4px;width:4px;height:25.6px;background:linear-gradient(180deg,#58b55d,#a9d9ab 55%,#d8eed9);border:.600px solid #5ab55e;border-radius:2px 2px 0 0;"></div>
<div class="t" style="left:31.9px;top:147.5px;width:20px;text-align:center;font-size:5px;color:#6b7280;">Apr</div>
<div class="t" style="left:43.93px;top:147.5px;width:20px;text-align:center;font-size:5px;color:#6b7280;">May</div>
<div class="t" style="left:55.96px;top:147.5px;width:20px;text-align:center;font-size:5px;color:#6b7280;">Jun</div>
<div class="t" style="left:67.99px;top:147.5px;width:20px;text-align:center;font-size:5px;color:#6b7280;">Jul</div>
<div class="t" style="left:80.02px;top:147.5px;width:20px;text-align:center;font-size:5px;color:#6b7280;">Aug</div>
<div class="t" style="left:92.05px;top:147.5px;width:20px;text-align:center;font-size:5px;color:#6b7280;">Sep</div>
<div class="t" style="left:104.08px;top:147.5px;width:20px;text-align:center;font-size:5px;color:#6b7280;">Oct</div>
<div class="t" style="left:116.11px;top:147.5px;width:20px;text-align:center;font-size:5px;color:#6b7280;">Nov</div>
<div class="t" style="left:128.14px;top:147.5px;width:20px;text-align:center;font-size:5px;color:#6b7280;">Dec</div>
<div class="t" style="left:140.17px;top:147.5px;width:20px;text-align:center;font-size:5px;color:#6b7280;">Jan</div>
<div class="t" style="left:152.2px;top:147.5px;width:20px;text-align:center;font-size:5px;color:#6b7280;">Feb</div>
<div class="t" style="left:164.23px;top:147.5px;width:20px;text-align:center;font-size:5px;color:#6b7280;">Mar</div>
<div class="abs" style="left:67px;top:159.5px;width:8px;height:3px;background:#66bb6a;"></div>
<div class="t" style="left:77px;top:158px;font-size:5.500px;color:#4b5563;">Sales</div>
<div class="abs" style="left:92.5px;top:159.5px;width:8px;height:3px;background:#ef5350;"></div>
<div class="t" style="left:102.5px;top:158px;font-size:5.500px;color:#4b5563;">Returns</div>
<div class="abs" style="left:2px;top:183.5px;width:203.500px;height:149px;background:#fcfdfe;border-radius:5px;box-shadow:0 1px 2px rgba(0,0,0,.08);"></div>
<div class="t" style="left:12px;top:196px;font-size:7.050px;-webkit-text-stroke:.3px #1e293b;color:#1e293b;letter-spacing:-.1px;">Incoming Payments</div>
<div class="abs" style="left:180px;top:193px;width:14.500px;height:14.500px;background:#43a047;border-radius:3px;"></div>
<svg class="ic" style="left:182.7px;top:195.7px;width:9.2px;height:9.2px;" viewBox="0 0 24 24"><path fill="#fff" d="M13.660 7c-.56-1.180-1.760-2-3.160-2H6V3h12v2h-3.260c.48.58.84 1.260 1.050 2H18v2h-2.020c-.25 2.800-2.610 5-5.480 5h-.73l6.730 7h-2.770L7 14v-2h3.500c1.760 0 3.220-1.300 3.460-3H6V7h7.660z"/></svg>
<div class="t" style="left:12px;top:213.5px;font-size:5.200px;color:#6b7280;">Total Received (FY)</div>
<div class="t" style="left:12px;top:221px;font-size:6px;color:#4caf50;">₹ 1,63,31,517.00</div>
<div class="t" style="left:2px;top:233.5px;width:31px;text-align:right;font-size:5px;color:#6b7280;">2400000</div>
<div class="t" style="left:2px;top:250.5px;width:31px;text-align:right;font-size:5px;color:#6b7280;">1800000</div>
<div class="t" style="left:2px;top:268.5px;width:31px;text-align:right;font-size:5px;color:#6b7280;">1200000</div>
<div class="t" style="left:2px;top:286.8px;width:31px;text-align:right;font-size:5px;color:#6b7280;">600000</div>
<div class="t" style="left:2px;top:305.1px;width:31px;text-align:right;font-size:5px;color:#6b7280;">0</div>
<svg class="abs" style="left:0;top:0;width:207.500px;height:366px;" viewBox="0 0 207.500 366"><defs><linearGradient id="gb" x1="0" y1="0" x2="0" y2="1"><stop offset="0" stop-color="#43a047" stop-opacity=".8"/><stop offset="1" stop-color="#a5d6a7" stop-opacity=".1"/></linearGradient></defs>
<path d="M36.0 280.6 C41.2 278.4 43.9 277.5 49.1 275.2 C54.4 272.9 57.6 272.5 62.2 269.2 C68.0 265.0 69.7 257.4 75.3 256.6 C80.2 255.9 84.6 267.9 88.4 265.6 C95.1 261.4 95.3 242.8 101.5 240.4 C105.8 238.7 108.6 250.3 114.6 255.4 C119.1 259.3 122.9 263.8 127.7 262.9 C133.4 261.9 134.8 254.1 140.8 250.6 C145.3 248.0 150.8 244.5 153.9 247.6 C161.3 255.0 161.8 265.2 167.0 277.0 C172.3 289.2 174.9 295.4 180.1 307.6 L180.1 307.6 L36.0 307.6 Z" fill="url(#gb)"/><path d="M36.0 280.6 C41.2 278.4 43.9 277.5 49.1 275.2 C54.4 272.9 57.6 272.5 62.2 269.2 C68.0 265.0 69.7 257.4 75.3 256.6 C80.2 255.9 84.6 267.9 88.4 265.6 C95.1 261.4 95.3 242.8 101.5 240.4 C105.8 238.7 108.6 250.3 114.6 255.4 C119.1 259.3 122.9 263.8 127.7 262.9 C133.4 261.9 134.8 254.1 140.8 250.6 C145.3 248.0 150.8 244.5 153.9 247.6 C161.3 255.0 161.8 265.2 167.0 277.0 C172.3 289.2 174.9 295.4 180.1 307.6" fill="none" stroke="#3fa046" stroke-width="1.350"/></svg>
<div class="t" style="left:26.0px;top:311px;width:20px;text-align:center;font-size:5px;color:#6b7280;">Apr</div>
<div class="t" style="left:39.1px;top:311px;width:20px;text-align:center;font-size:5px;color:#6b7280;">May</div>
<div class="t" style="left:52.2px;top:311px;width:20px;text-align:center;font-size:5px;color:#6b7280;">Jun</div>
<div class="t" style="left:65.3px;top:311px;width:20px;text-align:center;font-size:5px;color:#6b7280;">Jul</div>
<div class="t" style="left:78.4px;top:311px;width:20px;text-align:center;font-size:5px;color:#6b7280;">Aug</div>
<div class="t" style="left:91.5px;top:311px;width:20px;text-align:center;font-size:5px;color:#6b7280;">Sep</div>
<div class="t" style="left:104.6px;top:311px;width:20px;text-align:center;font-size:5px;color:#6b7280;">Oct</div>
<div class="t" style="left:117.7px;top:311px;width:20px;text-align:center;font-size:5px;color:#6b7280;">Nov</div>
<div class="t" style="left:130.8px;top:311px;width:20px;text-align:center;font-size:5px;color:#6b7280;">Dec</div>
<div class="t" style="left:143.9px;top:311px;width:20px;text-align:center;font-size:5px;color:#6b7280;">Jan</div>
<div class="t" style="left:170.1px;top:311px;width:20px;text-align:center;font-size:5px;color:#6b7280;">Mar</div>
<div class="abs" style="left:175.5px;top:310px;width:24px;height:24px;border-radius:50%;background:#1e5bd8;box-shadow:0 1px 3px rgba(0,0,0,.4);"></div>
<div class="t" style="left:184px;top:316.5px;font-size:11px;color:#fff;font-weight:bold;">+</div>
<div class="abs" style="left:0;top:336.5px;width:208px;height:31px;background:#1c1c1c;"></div>
<svg class="ic" style="left:22.5px;top:339.5px;width:7px;height:7px;" viewBox="0 0 24 24"><path fill="#2196f3" d="M5 9.2h3V19H5zM10.6 5h2.8v14h-2.8zm5.6 8H19v6h-2.8z"/></svg>
<div class="t" style="left:1px;top:347.5px;width:50px;text-align:center;font-size:5px;font-weight:bold;color:#2196f3;">Dashboard</div>
<svg class="ic" style="left:73.9px;top:339.5px;width:7px;height:7px;" viewBox="0 0 24 24"><path fill="#fff" d="M19 5v14H5V5h14m1.100-2H3.900c-.5 0-.9.4-.9.9v16.200c0 .4.4.9.9.9h16.200c.4 0 .9-.5.9-.9V3.900c0-.5-.5-.9-.9-.9zM7 7h10v2H7zm0 4h10v2H7zm0 4h10v2H7z"/></svg>
<div class="t" style="left:52.4px;top:347.5px;width:50px;text-align:center;font-size:5px;font-weight:bold;color:#fff;">Invoices</div>
<svg class="ic" style="left:125.5px;top:339.5px;width:7px;height:7px;" viewBox="0 0 24 24"><path fill="#fff" d="M16 11c1.660 0 2.990-1.340 2.990-3S17.660 5 16 5c-1.660 0-3 1.340-3 3s1.340 3 3 3zm-8 0c1.660 0 2.990-1.340 2.990-3S9.660 5 8 5C6.340 5 5 6.340 5 8s1.340 3 3 3zm0 2c-2.330 0-7 1.170-7 3.500V19h14v-2.500c0-2.330-4.670-3.500-7-3.500zm8 0c-.29 0-.62.02-.97.05 1.160.84 1.970 1.970 1.970 3.450V19h6v-2.500c0-2.330-4.670-3.500-7-3.500z"/></svg>
<div class="t" style="left:104px;top:347.5px;width:50px;text-align:center;font-size:5px;font-weight:bold;color:#fff;">Customers</div>
<svg class="ic" style="left:177.5px;top:339.5px;width:7px;height:7px;" viewBox="0 0 24 24"><path fill="#fff" d="M13.660 7c-.56-1.180-1.760-2-3.160-2H6V3h12v2h-3.260c.48.58.84 1.260 1.050 2H18v2h-2.020c-.25 2.800-2.610 5-5.480 5h-.73l6.730 7h-2.770L7 14v-2h3.500c1.760 0 3.220-1.300 3.460-3H6V7h7.660z"/></svg>
<div class="t" style="left:156px;top:347.5px;width:50px;text-align:center;font-size:5px;font-weight:bold;color:#fff;">Receivables</div>
</div>
<div class="abs" style="left:943.500px;top:518.500px;width:47.500px;height:19.500px;border:2px solid #b5b5b5;border-radius:10px;background:#141414;"></div>
<div class="abs" style="left:894px;top:525.500px;width:12px;height:7.500px;border:1.400px solid #8a8a8a;border-radius:1px;"></div>
<div class="abs" style="left:897px;top:523px;width:12px;height:7.500px;border-top:1.400px solid #8a8a8a;border-right:1.400px solid #8a8a8a;border-radius:1px;"></div>
<svg class="ic" style="left:1025px;top:522.500px;width:15px;height:12px;" viewBox="0 0 15 12"><path d="M4 0.800 L1 3.300 L4 5.800 M1 3.300 H10.500 a3 3 0 0 1 0 6.500 H4" fill="none" stroke="#8a8a8a" stroke-width="1.400"/></svg>
</body></html>
